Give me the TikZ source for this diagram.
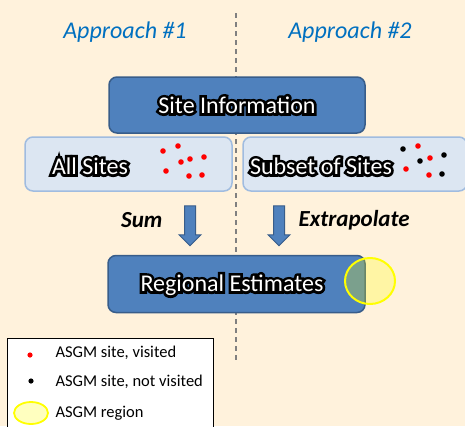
\documentclass[tikz,border=0pt]{standalone}
\usepackage{fontspec}
\setmainfont{Carlito}
\newfontfamily\haloface[FakeBold=22]{Carlito}
\usetikzlibrary{shapes.arrows,positioning}
\definecolor{pagebeige}{RGB}{255,242,220}
\definecolor{boxblue}{RGB}{79,129,189}
\definecolor{boxedge}{RGB}{56,93,138}
\definecolor{paleblue}{RGB}{220,230,242}
\definecolor{paleedge}{RGB}{160,188,224}
\definecolor{headblue}{RGB}{0,112,192}
\definecolor{dotred}{RGB}{255,0,0}
\definecolor{ringyellow}{RGB}{255,255,0}
% white text with a black halo
\newcommand{\outlined}[1]{\rlap{\haloface\textcolor{black}{#1}}\textcolor{white}{#1}}
\tikzset{
  darkbox/.style={draw=boxedge,line width=1.5pt,fill=boxblue,rounded corners=8pt},
  palebox/.style={draw=paleedge,line width=1.5pt,fill=paleblue,rounded corners=8pt},
  boxtext/.style={font=\fontsize{24}{28}\selectfont},
  blockarrow/.style={shape=single arrow,draw=boxedge,line width=1pt,fill=boxblue,
    rotate=-90,minimum height=40pt,inner sep=5pt,single arrow head extend=5.5pt},
  steplabel/.style={font=\fontsize{23}{27}\selectfont\bfseries\itshape},
  divider/.style={draw=gray,line width=1.2pt,dash pattern=on 5pt off 4pt},
  legendtext/.style={font=\fontsize{16.5}{19}\selectfont,anchor=west}
}
\begin{document}
\begin{tikzpicture}[x=1pt,y=-1pt]
  \fill[pagebeige] (0,0) rectangle (465,426);
  \useasboundingbox (0,0) rectangle (465,426);
  % dividing line between the two approaches
  \coordinate (divtop) at (236,13);
  \coordinate (divbot) at (236,360);
  \draw[divider] (divtop) -- (divbot);
  \node[font=\fontsize{24}{28}\selectfont\itshape,text=headblue] (apone) at (125,32) {Approach \#1};
  \node[font=\fontsize{24}{28}\selectfont\itshape,text=headblue] (aptwo) at (350,32) {Approach \#2};
  % boxes
  \node[darkbox,minimum width=256pt,minimum height=56pt,boxtext] (siteinfo) at (237,105) {\outlined{Site Information}};
  \node[palebox,minimum width=207pt,minimum height=54pt] (allsites) at (128.5,164) {};
  \node[boxtext] (allsiteslbl) at (90,166) {\outlined{All Sites}};
  \node[palebox,minimum width=224pt,minimum height=54pt] (subset) at (355,164) {};
  \node[boxtext] (subsetlbl) at (321,166) {\outlined{Subset of Sites}};
  % sites
  \foreach \x/\y in {163/151,178/146,181/162,190/159,204/157,166/171,189/176,202/175}{
    \fill[dotred] (\x,\y) circle (2.8pt);
  }
  \foreach \x/\y in {418/146,430/158,406/169,429/175}{
    \fill[dotred] (\x,\y) circle (2.8pt);
  }
  \foreach \x/\y in {403/149,420/161,444/155,442/174}{
    \fill[black] (\x,\y) circle (2.8pt);
  }
  % arrows
  \node[blockarrow] (sumarrow) at (190,223) {};
  \node[blockarrow] (extarrow) at (279,223) {};
  \node[steplabel,anchor=east] (sumlbl) at (166,220) {Sum};
  \node[steplabel,anchor=west] (extlbl) at (295,220) {Extrapolate};
  % result
  \node[darkbox,minimum width=257pt,minimum height=57pt] (regional) at (236.5,284) {};
  \node[boxtext] (regionallbl) at (232,285) {\outlined{Regional Estimates}};
  \draw[ringyellow,line width=2pt,fill=ringyellow,fill opacity=0.25] (370,281) ellipse (25pt and 23pt);
  % legend
  \draw[black,fill=white,line width=0.8pt] (7,338) rectangle (213,432);
  \fill[dotred] (30,355) circle (2.6pt);
  \node[legendtext] (leg1) at (52,353) {ASGM site, visited};
  \fill[black] (31,381) circle (2.6pt);
  \node[legendtext] (leg2) at (52,382) {ASGM site, not visited};
  \draw[ringyellow,line width=1.8pt,fill=ringyellow!25] (31,413) ellipse (17pt and 11pt);
  \node[legendtext] (leg3) at (52,413) {ASGM region};
\end{tikzpicture}
\end{document}
